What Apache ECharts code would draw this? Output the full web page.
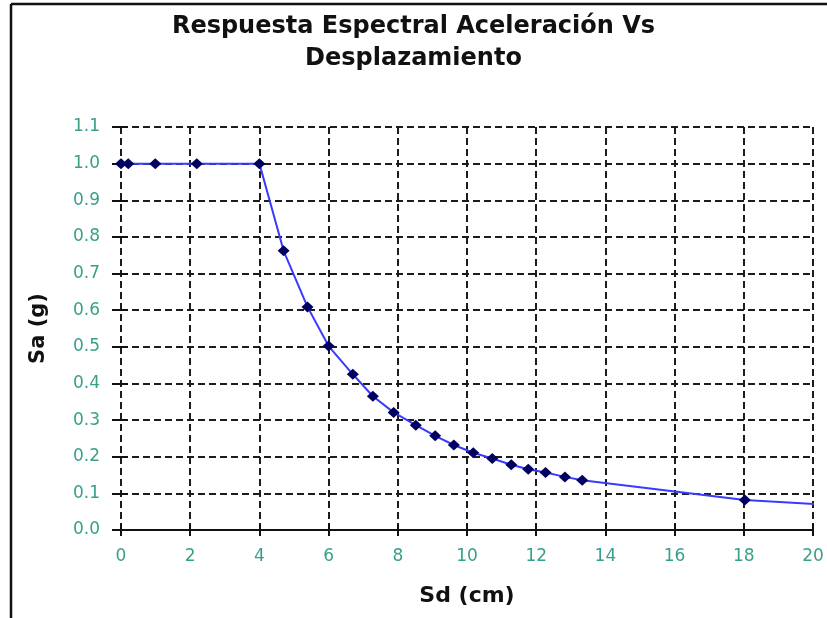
<!DOCTYPE html>
<html>
<head>
<meta charset="utf-8">
<title>Respuesta Espectral</title>
<script src="https://cdn.jsdelivr.net/npm/echarts@6/dist/echarts.min.js"></script>
<style>
  html, body { margin: 0; padding: 0; background: #fff; }
  #chart { width: 827px; height: 618px; }
</style>
</head>
<body>
<div id="chart"></div>
<script>
// datos
var sdValues = [0, 0.21, 0.99, 2.19, 4.0, 4.70, 5.39, 6.0, 6.70, 7.28, 7.88, 8.52, 9.08, 9.62, 10.18, 10.73, 11.28, 11.77, 12.27, 12.83, 13.33, 18.03, 20.25];
var saValues = [1.0, 1.0, 1.0, 1.0, 1.0, 0.762, 0.609, 0.502, 0.425, 0.365, 0.321, 0.286, 0.257, 0.232, 0.211, 0.195, 0.178, 0.166, 0.157, 0.145, 0.136, 0.082, 0.070];
// el ultimo punto queda fuera del eje y no lleva marcador
var hiddenMarks = [22];

var titleText = "Respuesta Espectral Aceleración Vs\nDesplazamiento";
var xName = "Sd (cm)";
var yName = "Sa (g)";

var labelColor = "#38a08a";
var gridColor = "#1c1c1c";

// armar los puntos de la serie
function buildSeries() {
  var pts = [];
  for (var i = 0; i < sdValues.length; i++) {
    var item = { value: [sdValues[i], saValues[i]] };
    if (hiddenMarks.indexOf(i) >= 0) {
      item.symbol = "none";
    }
    pts.push(item);
  }
  return pts;
}

var chart = echarts.init(document.getElementById("chart"), null, { renderer: "canvas" });

chart.setOption({
  backgroundColor: "#fff",
  animation: false,
  title: {
    text: titleText,
    left: "center",
    top: 6,
    textStyle: {
      fontFamily: "DejaVu Sans",
      fontSize: 24,
      fontWeight: "bold",
      color: "#111",
      lineHeight: 32
    }
  },
  graphic: [
    {
      type: "line",
      shape: { x1: 11, y1: 4, x2: 11, y2: 618 },
      style: { stroke: "#111", lineWidth: 2.5 }
    },
    {
      type: "line",
      shape: { x1: 11, y1: 4, x2: 827, y2: 4 },
      style: { stroke: "#111", lineWidth: 2.5 }
    }
  ],
  grid: {
    left: 121,
    right: 14,
    top: 127,
    bottom: 88
  },
  xAxis: [
    {
      type: "value",
      min: 0,
      max: 20,
      interval: 2,
      name: xName,
      nameLocation: "middle",
      nameGap: 55,
      nameTextStyle: {
        fontFamily: "DejaVu Sans",
        fontSize: 22,
        fontWeight: "bold",
        color: "#111"
      },
      axisLine: { show: true, lineStyle: { color: "#111", width: 2 } },
      axisTick: { show: true, length: 6, lineStyle: { color: "#111", width: 2 } },
      axisLabel: {
        margin: 18,
        fontFamily: "DejaVu Sans",
        fontSize: 17,
        color: labelColor
      },
      splitLine: {
        show: true,
        lineStyle: { color: gridColor, width: 2, type: [7, 4] }
      }
    },
    {
      // solo marcas hacia adentro
      type: "value",
      position: "bottom",
      min: 0,
      max: 20,
      interval: 2,
      axisLine: { show: false },
      axisTick: { show: true, inside: true, length: 6, lineStyle: { color: "#111", width: 2 } },
      axisLabel: { show: false },
      splitLine: { show: false }
    }
  ],
  yAxis: [
    {
      type: "value",
      position: "left",
      min: 0,
      max: 1.1,
      interval: 0.1,
      name: yName,
      nameLocation: "middle",
      nameGap: 72,
      nameTextStyle: {
        fontFamily: "DejaVu Sans",
        fontSize: 21,
        fontWeight: "bold",
        color: "#111"
      },
      axisLine: { show: false },
      axisTick: { show: true, length: 9, lineStyle: { color: "#111", width: 2 } },
      axisLabel: {
        margin: 21,
        fontFamily: "DejaVu Sans",
        fontSize: 17,
        color: labelColor,
        formatter: function (v) { return v.toFixed(1); }
      },
      splitLine: {
        show: true,
        lineStyle: { color: gridColor, width: 2, type: [7, 4] }
      }
    },
    {
      type: "value",
      position: "left",
      min: 0,
      max: 1.1,
      interval: 0.1,
      axisLine: { show: false },
      axisTick: { show: true, inside: true, length: 7, lineStyle: { color: "#111", width: 2 } },
      axisLabel: { show: false },
      splitLine: { show: false }
    }
  ],
  series: [
    {
      type: "line",
      data: buildSeries(),
      clip: false,
      symbol: "diamond",
      symbolSize: [12, 11],
      itemStyle: { color: "#00005e" },
      lineStyle: { color: "#3a3aff", width: 2 }
    }
  ]
});
</script>
</body>
</html>
